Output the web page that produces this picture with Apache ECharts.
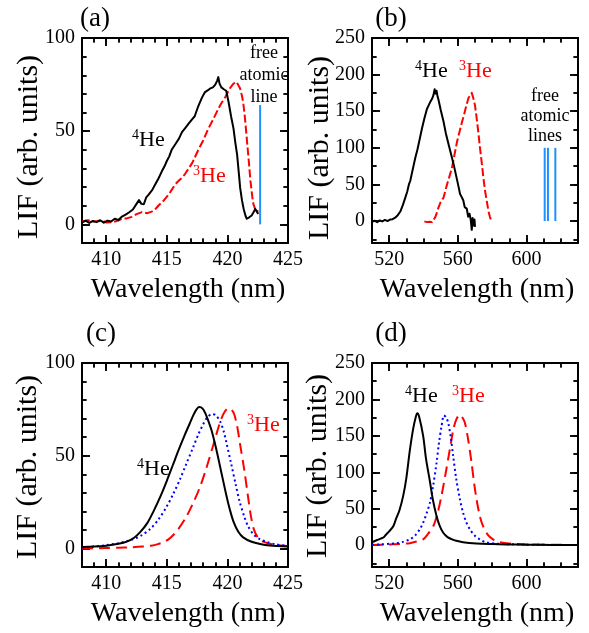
<!DOCTYPE html>
<html>
<head>
<meta charset="utf-8">
<script src="https://cdn.jsdelivr.net/npm/echarts@6/dist/echarts.min.js"></script>
<style>html,body{margin:0;padding:0;background:#fff}#chart{width:589px;height:633px}</style>
</head>
<body>
<div id="chart"></div>
<script>
// ---------- tick labels / tick positions ----------
const xMajorAC = [410, 415, 420, 425];
const xMinorAC = [408, 409, 410, 411, 412, 413, 414, 415, 416, 417, 418, 419, 420, 421, 422, 423, 424, 425];
const yMajorAC = [0, 50, 100];
const yMinorAC = [-10, 0, 10, 20, 30, 40, 50, 60, 70, 80, 90, 100];
const xMajorBD = [520, 560, 600];
const xMinorBD = [510, 520, 530, 540, 550, 560, 570, 580, 590, 600, 610, 620, 630];
const yMajorBD = [0, 50, 100, 150, 200, 250];
const yMinorBD = [-25, 0, 25, 50, 75, 100, 125, 150, 175, 200, 225, 250];
const rangeXAC = [408, 425], rangeYAC = [-10, 100];
const rangeXBD = [510, 630], rangeYBD = [-30, 250];

// ---------- panel (a): measured LIF ----------
const a_He4 = [[408.0,1.0],[408.3,2.0],[408.6,0.8],[408.9,1.8],[409.2,1.2],[409.5,2.2],[409.8,0.9],[410.1,2.0],[410.4,1.5],[410.7,3.0],[411.0,2.4],[411.3,4.2],[411.6,5.2],[411.9,6.5],[412.2,8.0],[412.5,11.0],[412.7,13.0],[412.9,11.0],[413.1,10.8],[413.3,14.5],[413.5,16.0],[413.8,18.5],[414.05,21.5],[414.3,24.5],[414.6,28.6],[414.8,31.0],[415.0,34.0],[415.2,36.5],[415.4,40.0],[415.7,43.0],[416.0,46.0],[416.25,49.5],[416.5,51.5],[416.8,54.0],[417.1,56.5],[417.3,58.0],[417.6,63.5],[417.9,68.0],[418.15,71.0],[418.4,72.0],[418.6,73.0],[418.8,73.5],[419.0,75.0],[419.15,77.0],[419.25,79.0],[419.35,75.5],[419.5,73.5],[419.7,72.5],[419.9,71.7],[420.1,65.5],[420.3,58.0],[420.5,51.5],[420.65,44.0],[420.8,37.4],[420.95,27.0],[421.05,19.7],[421.2,13.0],[421.35,8.0],[421.5,4.5],[421.6,3.0],[421.8,3.8],[422.0,4.8],[422.2,7.0],[422.3,8.3],[422.45,6.5],[422.55,5.6]];
const a_He3 = [[408.0,1.5],[408.5,2.2],[409.0,1.5],[409.65,2.1],[410.0,1.0],[410.5,1.2],[411.0,2.0],[411.3,3.0],[411.7,3.2],[412.1,4.0],[412.5,5.5],[412.95,6.6],[413.4,6.0],[413.8,7.0],[414.1,8.5],[414.3,10.0],[414.7,12.5],[415.15,16.0],[415.4,18.5],[415.7,21.5],[416.0,23.5],[416.25,25.0],[416.5,27.0],[417.1,33.0],[417.6,40.0],[418.0,45.0],[418.4,51.0],[418.8,56.0],[419.25,62.0],[419.5,65.0],[419.8,68.0],[420.2,73.0],[420.5,75.5],[420.75,76.5],[420.9,77.0],[421.04,73.0],[421.2,69.0],[421.3,65.6],[421.45,57.0],[421.6,46.0],[421.75,35.0],[421.9,23.3],[422.05,15.0],[422.14,11.0],[422.3,8.0],[422.4,6.6],[422.55,7.5]];
const a_atomicLines = [422.7];
const a_atomicHeight = 64;

// ---------- panel (b): measured LIF ----------
const b_He4 = [[510.0,-1.0],[511.5,0.5],[513.0,-1.5],[514.5,0.8],[516.0,-0.5],[517.5,1.5],[519.0,0.0],[520.5,2.0],[522.0,2.5],[523.5,4.5],[525.0,8.0],[526.5,13.0],[528.0,22.0],[529.4,32.0],[530.5,40.0],[531.5,50.0],[532.3,55.0],[533.5,68.0],[535.2,86.0],[536.5,98.0],[537.8,112.0],[539.1,126.5],[540.5,140.0],[542.0,153.0],[543.0,158.0],[544.0,163.0],[545.0,167.0],[545.8,172.0],[546.5,180.0],[547.0,174.0],[547.6,178.0],[548.2,170.0],[548.8,165.0],[550.0,152.0],[551.7,135.5],[553.0,120.0],[554.7,104.0],[556.0,92.0],[557.6,77.0],[559.0,62.0],[560.5,46.0],[561.3,37.0],[562.2,33.0],[563.2,28.0],[564.0,19.0],[565.2,17.0],[566.0,6.0],[566.8,10.0],[567.5,2.0],[568.1,-12.0],[568.6,4.0],[569.2,-6.0],[569.7,2.0],[570.0,-8.0]];
const b_He3 = [[540.5,-0.5],[542.0,-1.5],[543.5,-1.0],[545.0,-1.5],[546.0,2.0],[546.9,5.4],[548.0,13.0],[548.8,19.0],[550.0,26.0],[551.7,32.0],[552.8,42.0],[553.7,50.0],[555.0,60.0],[556.6,73.0],[558.0,90.0],[559.5,108.0],[561.0,122.0],[562.4,135.0],[563.8,147.0],[565.2,160.0],[566.2,168.0],[567.3,172.0],[568.1,175.0],[569.0,168.0],[570.0,158.0],[571.0,140.0],[572.0,120.0],[572.9,100.0],[574.0,78.0],[574.9,59.0],[575.8,42.0],[576.8,28.0],[577.8,14.0],[578.7,5.4],[579.6,0.0],[580.0,-1.0]];
const b_atomicLines = [610.6, 612.5, 616.8];
const b_atomicHeight = 100;

// ---------- panel (c): simulated spectra ----------
const c_He4 = [[408,0.8],[409,1.0],[410,1.5],[411,2.5],[411.7,3.7],[412.3,5.8],[412.8,8.8],[413.4,13.8],[413.9,20],[414.5,28.5],[415.0,36.5],[415.5,45],[416.0,53.5],[416.5,61.5],[416.9,67.5],[417.2,72],[417.45,75],[417.65,76.3],[417.85,76],[418.05,74.5],[418.3,71],[418.7,63.5],[419.1,53],[419.5,41],[419.9,29],[420.2,21],[420.5,14.5],[420.9,9],[421.3,6],[422,3.6],[422.7,2.4],[423.5,1.6],[425,1.0]];
const c_mid = [[408,0.5],[409,1],[410,1.8],[410.9,2.7],[411.5,3.6],[412.2,4.9],[412.9,7],[413.6,10.3],[414.3,15.5],[415.0,22.7],[415.5,29],[416.1,37.5],[416.6,45.5],[417.2,55],[417.6,61.5],[418.0,67],[418.3,70.3],[418.7,72.4],[419.0,72],[419.4,68.5],[419.7,63],[419.9,57.5],[420.3,46],[420.7,34],[421.0,25.5],[421.4,17],[421.7,12],[422.1,8],[422.6,5.3],[423.2,3.6],[424,2.2],[425,1.3]];
const c_He3 = [[408,0],[410,0.2],[411,0.4],[412,0.6],[413,1.0],[413.7,1.5],[414.2,2.2],[414.8,3.6],[415.3,5.8],[415.9,10],[416.6,17],[417.1,23.5],[417.7,32.5],[418.2,42],[418.8,55],[419.2,64],[419.5,70],[419.8,74],[420.05,75.5],[420.3,75],[420.55,72.5],[420.8,66],[421.05,56],[421.4,42],[421.7,28],[421.95,17],[422.2,10],[422.5,6],[422.9,3.8],[423.5,2.5],[424,1.9],[425,1.3]];

// ---------- panel (d): simulated spectra ----------
const d_He4 = [[510,4],[511,5],[513,7],[515,9],[516.6,10.5],[518,14],[520,19],[522.4,26],[524,36],[526,48],[528.2,68],[530,92],[532.1,131],[534,160],[535.5,176],[536.4,181],[537.5,176],[539.8,150],[541.5,118],[543.7,88],[545.5,62],[547.6,40],[549.5,26],[551.5,17],[554,11],[557,7.5],[559.2,6],[563,4],[570.9,2.3],[580,1.5],[588.3,1],[600,0.6],[615,0.3],[630,0.2]];
const d_mid = [[510,0.5],[515,1],[520,1.8],[524.3,2.7],[528,4.5],[532.1,8],[535,13],[537.9,22],[540,32],[542,45],[543.7,58],[545.5,80],[547.6,113],[549,140],[550.5,163],[551.9,178],[553,176],[554.4,168],[556,146],[557.3,122],[559,92],[561.2,63],[563,45],[565,31],[567.5,20],[569.9,13],[573,7.5],[576.7,3.7],[582,2.2],[588.3,1.4],[600,0.7],[615,0.3],[630,0.2]];
const d_He3 = [[510,0.3],[520,0.8],[526,1.5],[532,2.7],[536,5],[539.8,8],[542.5,15],[545.7,26],[548,42],[550.5,68],[553,100],[555.3,131],[557.5,160],[559.2,173],[561.2,179],[562.5,176],[564.1,168],[566,145],[568,113],[569.5,85],[570.9,63],[572.8,40],[574.7,26],[577.5,14],[580.5,8],[584,4.5],[588.3,2.7],[595,1.5],[600,1],[615,0.5],[630,0.3]];

// ---------- build ----------
const FONT = '"Liberation Serif", "Times New Roman", serif';
const BLACK = '#000000', RED = '#ff0000', BLUE = '#0000ff', LBLUE = '#1e90ff';
const grids = [], xAxes = [], yAxes = [], series = [];
const MINOR = 4.5, MAJOR = 8;

function addGrid(r) {
  grids.push({left: r.left, top: r.top, width: r.width, height: r.height});
  return grids.length - 1;
}
function hidden(gi) {
  return {gridIndex: gi, type: 'value', min: 0, max: 1, show: false, splitLine: {show: false}};
}
// A thin strip grid along one side of the box; its axis draws the ticks
// (as inside ticks and, identically, as split lines spanning the strip).
function tickAxis(gi, r, step, pos, len, labels) {
  const axisLabel = labels
    ? {show: true, margin: 7, fontFamily: FONT, fontSize: 20, color: BLACK, formatter: v => (labels.indexOf(+v) >= 0 ? String(v) : '')}
    : {show: false};
  return {gridIndex: gi, type: 'value', min: r[0], max: r[1], interval: step, position: pos,
    axisLine: {show: false, onZero: false},
    axisTick: {show: true, inside: true, length: len, lineStyle: {color: BLACK, width: 1.5}},
    splitLine: {show: true, showMinLine: true, showMaxLine: true, lineStyle: {color: BLACK, width: 1.5, type: 'solid'}},
    axisLabel: axisLabel};
}
function xTicks(box, xr, list, len, labels) {
  const start = list[0], step = list[1] - list[0];
  const left = box.left + (start - xr[0]) / (xr[1] - xr[0]) * box.width;
  const width = box.left + box.width - left;
  const gb = addGrid({left: left, width: width, top: box.top + box.height - len, height: len});
  yAxes.push(hidden(gb));
  xAxes.push(tickAxis(gb, [start, xr[1]], step, 'bottom', len, labels));
  const gt = addGrid({left: left, width: width, top: box.top, height: len});
  yAxes.push(hidden(gt));
  xAxes.push(tickAxis(gt, [start, xr[1]], step, 'top', len, null));
}
function yTicks(box, yr, list, len, labels) {
  const start = list[0], step = list[1] - list[0];
  const h = (yr[1] - start) / (yr[1] - yr[0]) * box.height;
  const gl = addGrid({left: box.left, width: len, top: box.top, height: h});
  xAxes.push(hidden(gl));
  yAxes.push(tickAxis(gl, [start, yr[1]], step, 'left', len, labels));
  const gr = addGrid({left: box.left + box.width - len, width: len, top: box.top, height: h});
  xAxes.push(hidden(gr));
  yAxes.push(tickAxis(gr, [start, yr[1]], step, 'right', len, null));
}
function addPanel(box, xr, yr, xMaj, xMin, yMaj, yMin) {
  const gi = addGrid(box);
  const xi = xAxes.length, yi = yAxes.length;
  const line = {show: true, onZero: false, lineStyle: {color: BLACK, width: 2}};
  ['bottom', 'top'].forEach(pos => xAxes.push({gridIndex: gi, type: 'value', min: xr[0], max: xr[1], position: pos,
    axisLine: line, axisTick: {show: false}, axisLabel: {show: false}, splitLine: {show: false}}));
  ['left', 'right'].forEach(pos => yAxes.push({gridIndex: gi, type: 'value', min: yr[0], max: yr[1], position: pos,
    axisLine: line, axisTick: {show: false}, axisLabel: {show: false}, splitLine: {show: false}}));
  xTicks(box, xr, xMin, MINOR, null);
  xTicks(box, xr, xMaj, MAJOR, xMaj);
  yTicks(box, yr, yMin, MINOR, null);
  yTicks(box, yr, yMaj, MAJOR, yMaj);
  return {xi: xi, yi: yi};
}
function addLine(p, data, color, type, smooth) {
  series.push({type: 'line', xAxisIndex: p.xi, yAxisIndex: p.yi, data: data, showSymbol: false, symbol: 'none',
    smooth: smooth ? 0.3 : false, animation: false, silent: true, z: 3,
    lineStyle: {color: color, width: 2, type: type, cap: 'butt', join: 'round'}});
}
function addAtomic(p, xs, h) {
  xs.forEach(x => addLine(p, [[x, 0], [x, h]], LBLUE, 'solid', false));
}

const pa = addPanel({left: 82, top: 38, width: 206, height: 205}, rangeXAC, rangeYAC, xMajorAC, xMinorAC, yMajorAC, yMinorAC);
const pb = addPanel({left: 372, top: 38, width: 206, height: 205}, rangeXBD, rangeYBD, xMajorBD, xMinorBD, yMajorBD, yMinorBD);
const pc = addPanel({left: 82, top: 363, width: 206, height: 204}, rangeXAC, rangeYAC, xMajorAC, xMinorAC, yMajorAC, yMinorAC);
const pd = addPanel({left: 372, top: 363, width: 206, height: 204}, rangeXBD, rangeYBD, xMajorBD, xMinorBD, yMajorBD, yMinorBD);

addAtomic(pa, a_atomicLines, a_atomicHeight);
addLine(pa, a_He3, RED, [8, 3], false);
addLine(pa, a_He4, BLACK, 'solid', false);

addAtomic(pb, b_atomicLines, b_atomicHeight);
addLine(pb, b_He3, RED, [8, 3], false);
addLine(pb, b_He4, BLACK, 'solid', false);

addLine(pc, c_He3, RED, [11, 6], true);
addLine(pc, c_mid, BLUE, [2, 3], true);
addLine(pc, c_He4, BLACK, 'solid', true);

addLine(pd, d_He3, RED, [11, 6], true);
addLine(pd, d_mid, BLUE, [2, 3], true);
addLine(pd, d_He4, BLACK, 'solid', true);

// ---------- texts ----------
const graphics = [];
function txt(x, y, text, size, color, align, rot, lh) {
  graphics.push({type: 'text', x: x, y: y, rotation: rot || 0, z: 100, silent: true,
    style: {text: text, fill: color, font: size + 'px ' + FONT, align: align || 'center', verticalAlign: 'middle', lineHeight: lh || size}});
}
function he(x, y, sup, color) {
  graphics.push({type: 'text', x: x, y: y, z: 100, silent: true,
    style: {text: '{s|' + sup + '}{n|He}', fill: color, align: 'left', verticalAlign: 'middle',
      rich: {s: {fontFamily: FONT, fontSize: 14, fill: color, verticalAlign: 'top', lineHeight: 16},
             n: {fontFamily: FONT, fontSize: 22, fill: color, lineHeight: 24}}}});
}
txt(95, 19, '(a)', 27, BLACK);
txt(391, 19, '(b)', 27, BLACK);
txt(101, 334, '(c)', 27, BLACK);
txt(391, 334, '(d)', 27, BLACK);
[[29, 147], [320, 148], [28, 467], [318, 466]].forEach(p => txt(p[0], p[1], 'LIF (arb. units)', 30, BLACK, 'center', Math.PI / 2));
[[188, 290], [477, 290], [188, 614], [477, 614]].forEach(p => txt(p[0], p[1], 'Wavelength (nm)', 28, BLACK));
txt(264, 75, 'free\natomic\nline', 18, BLACK, 'center', 0, 22);
txt(545, 116, 'free\natomic\nlines', 18, BLACK, 'center', 0, 20);
he(132, 140, '4', BLACK);
he(193, 176, '3', RED);
he(415, 71, '4', BLACK);
he(459, 71, '3', RED);
he(137, 469, '4', BLACK);
he(247, 425, '3', RED);
he(405, 396, '4', BLACK);
he(452, 396, '3', RED);

const chart = echarts.init(document.getElementById('chart'));
chart.setOption({
  animation: false,
  backgroundColor: '#ffffff',
  grid: grids,
  xAxis: xAxes,
  yAxis: yAxes,
  series: series,
  graphic: graphics
});
</script>
</body>
</html>
